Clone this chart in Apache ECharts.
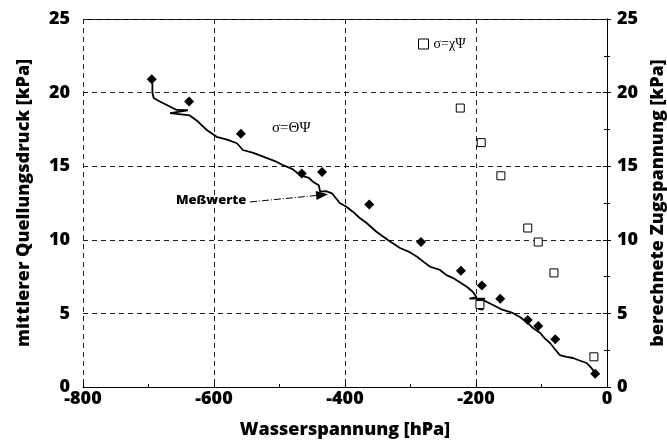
<!DOCTYPE html>
<html>
<head>
<meta charset="utf-8">
<script src="https://cdn.jsdelivr.net/npm/echarts@6/dist/echarts.min.js"></script>
<style>
  html, body { margin: 0; padding: 0; background: #fff; }
  #chart { width: 667px; height: 444px; }
</style>
</head>
<body>
<div id="chart"></div>
<script>
const measX = [-694, -694, -692, -685, -672, -657, -640, -667, -637, -625, -611, -596, -580, -565, -556, -540,
  -520, -507, -495, -480, -469, -455, -449, -440, -438, -429, -420, -408, -398, -388, -378, -367, -352, -335,
  -316, -303, -290, -280, -270, -255, -245, -235, -214, -205, -199, -210, -186, -197, -196, -190, -189, -174,
  -160, -144, -133, -123, -113, -102, -95, -87, -80, -72, -62, -52, -42, -31, -24, -18]
const measY = [20.63, 19.95, 19.63, 19.45, 19.16, 18.82, 18.8, 18.6, 18.45, 18.05, 17.46, 17.0, 16.8, 16.56, 16.1, 15.9,
  15.56, 15.35, 15.08, 14.8, 14.4, 14.2, 13.95, 13.7, 13.27, 13.3, 13.16, 12.5, 12.25, 11.91, 11.5, 11.14, 10.55, 10.0,
  9.44, 9.2, 8.85, 8.5, 8.17, 7.95, 7.6, 7.4, 6.81, 6.47, 6.1, 6.0, 6.0, 5.95, 5.3, 5.25, 5.9, 5.57,
  5.25, 5.03, 4.75, 4.44, 4.0, 3.67, 3.3, 2.99, 2.6, 2.17, 2.05, 1.97, 1.8, 1.63, 1.3, 0.95]

// sigma = Theta * Psi (filled diamonds)
const thetaX = [-695, -638, -559, -466, -435, -363, -284, -223, -191, -163, -121, -105, -79, -18]
const thetaY = [20.9, 19.4, 17.2, 14.5, 14.6, 12.4, 9.85, 7.9, 6.9, 6.0, 4.55, 4.15, 3.25, 0.9]

// sigma = chi * Psi (open squares, right axis)
const chiX = [-224, -192, -162, -121, -105, -81, -194, -20]
const chiY = [18.95, 16.6, 14.35, 10.8, 9.85, 7.75, 5.6, 2.05]

// arrow from the "Meßwerte" label to the curve
const arrowFrom = [-545, 12.57]
const arrowTo = [-435, 13.05]

const font = '"Open Sans", "DejaVu Sans", sans-serif'
const labelStyle = { color: '#000', fontFamily: font, fontWeight: 800, fontSize: 18 }
const nameStyle = { color: '#000', fontFamily: font, fontWeight: 800, fontSize: 18 }
const gridLine = { show: true, lineStyle: { color: '#222', type: [5, 4], width: 1 } }
const tick = { show: true, inside: true, length: 4, lineStyle: { color: '#000' } }
const minorTick = { show: true, splitNumber: 2, length: 3, lineStyle: { color: '#000' } }

function yAxis(name, position) {
  return {
    type: 'value', position, min: 0, max: 25, interval: 5,
    name, nameLocation: 'middle', nameRotate: 90,
    nameGap: position === 'left' ? 50 : 36,
    nameTextStyle: nameStyle,
    axisLine: { show: true, lineStyle: { color: '#000', width: 1 } },
    axisTick: tick,
    minorTick,
    axisLabel: { ...labelStyle, margin: position === 'left' ? 13 : 10 },
    splitLine: position === 'left' ? gridLine : { show: false },
  }
}

const chart = echarts.init(document.getElementById('chart'))
chart.setOption({
  animation: false,
  backgroundColor: '#fff',
  grid: { left: 83, right: 60, top: 19, bottom: 57, outerBoundsMode: 'none', containLabel: false },
  legend: {
    left: 413, top: 32, itemWidth: 10, itemHeight: 10, itemGap: 6,
    data: [{ name: 'σ=χΨ', icon: 'rect' }],
    itemStyle: { color: '#fff', borderColor: '#000', borderWidth: 1, opacity: 1 },
    textStyle: { color: '#000', fontFamily: '"Liberation Serif", serif', fontSize: 14 },
  },
  xAxis: {
    type: 'value', min: -800, max: 0, interval: 200,
    name: 'Wasserspannung [hPa]', nameLocation: 'middle', nameGap: 34,
    nameTextStyle: nameStyle,
    axisLine: { show: true, onZero: false, lineStyle: { color: '#000', width: 1 } },
    axisTick: tick,
    minorTick,
    axisLabel: { ...labelStyle, margin: 3 },
    splitLine: gridLine,
  },
  yAxis: [
    yAxis('mittlerer Quellungsdruck [kPa]', 'left'),
    yAxis('berechnete Zugspannung [kPa]', 'right'),
  ],
  graphic: [
    { type: 'rect', left: 83, top: 19, shape: { width: 524, height: 0 }, style: { stroke: '#000', lineWidth: 1 } },
    { type: 'text', left: 272, top: 121, style: { text: 'σ=ΘΨ', fill: '#000', font: '15px "Liberation Serif", serif' } },
    { type: 'text', left: 176, top: 194, style: { text: 'Meßwerte', fill: '#000', font: '800 13px ' + font } },
  ],
  series: [
    {
      name: 'Meßwerte', type: 'line', showSymbol: false, symbol: 'none',
      data: measX.map((x, i) => [x, measY[i]]),
      lineStyle: { color: '#000', width: 1.8 },
      markLine: {
        silent: true, symbol: ['none', 'triangle'], symbolSize: [9, 12],
        label: { show: false },
        lineStyle: { color: '#000', width: 1, type: [7, 2, 1, 2] },
        data: [[{ coord: arrowFrom }, { coord: arrowTo }]],
      },
    },
    {
      name: 'σ=ΘΨ', type: 'scatter', symbol: 'diamond', symbolSize: 10,
      data: thetaX.map((x, i) => [x, thetaY[i]]),
      itemStyle: { color: '#000', opacity: 1 },
      z: 3,
    },
    {
      name: 'σ=χΨ', type: 'scatter', symbol: 'rect', symbolSize: 8, yAxisIndex: 1,
      data: chiX.map((x, i) => [x, chiY[i]]),
      itemStyle: { color: '#fff', borderColor: '#000', borderWidth: 1, opacity: 1 },
      z: 4,
    },
  ],
})
</script>
</body>
</html>
